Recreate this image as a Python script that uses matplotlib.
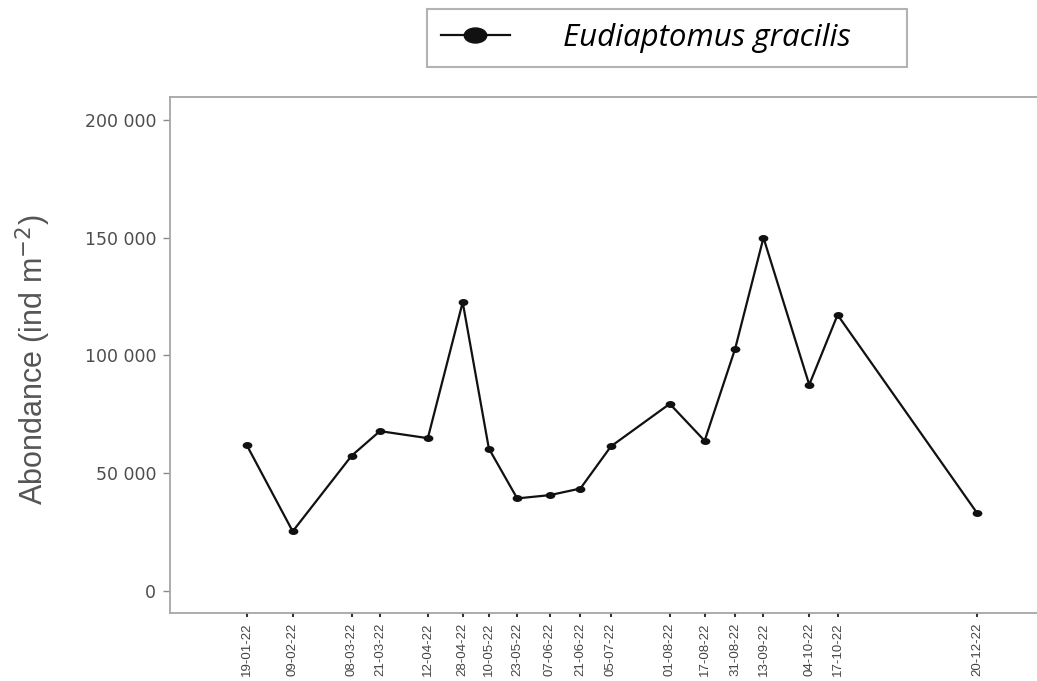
import numpy as np
import pandas as pd
import matplotlib
matplotlib.use("Agg")
import matplotlib.pyplot as plt
import matplotlib.dates as mdates
from matplotlib.path import Path
from matplotlib.transforms import Affine2D
from matplotlib.ticker import FuncFormatter

# sampling dates (dd-mm-yy) and abundance values
dates = ["19-01-22", "09-02-22", "08-03-22", "21-03-22", "12-04-22", "28-04-22",
         "10-05-22", "23-05-22", "07-06-22", "21-06-22", "05-07-22", "01-08-22",
         "17-08-22", "31-08-22", "13-09-22", "04-10-22", "17-10-22", "20-12-22"]
abundance = [61700, 25200, 57300, 67800, 64800, 122600,
             60400, 39200, 40600, 43400, 61300, 79400,
             63700, 102800, 150000, 87500, 117200, 33000]
species = "Eudiaptomus gracilis"
y_ticks = [0, 50000, 100000, 150000, 200000]

x = pd.to_datetime(dates, format="%d-%m-%y")

W, H = 1037, 681
fig = plt.figure(figsize=(W / 100, H / 100), dpi=100)
ax = fig.add_axes([170 / W, 1 - 613 / H, (W - 170) / W, (613 - 97) / H])

# slightly flattened marker, like the stretched original
ellipse = Path.unit_circle().transformed(Affine2D().scale(1.5, 1.0))

line, = ax.plot(x, abundance, color="#111111", lw=1.6, marker=ellipse,
                markersize=6, label=species)

xn = mdates.date2num(x)
ax.set_xlim(xn[0] - 35.3, xn[-1] + 27.5)
ax.set_ylim(-9500, 209800)

ax.set_xticks(xn)
ax.set_xticklabels(dates, rotation=90, fontsize=9.5, color="#444444",
                   family=["Liberation Sans", "DejaVu Sans"], va="top")
ax.set_yticks(y_ticks)
ax.yaxis.set_major_formatter(FuncFormatter(lambda v, p: f"{int(v):,}".replace(",", " ")))
for lab in ax.get_yticklabels():
    lab.set_fontsize(12.5)
    lab.set_color("#4d4d4d")
    lab.set_family(["DejaVu Sans"])

ax.tick_params(axis="y", length=5, width=1, color="#8a8a8a", pad=5)
ax.tick_params(axis="x", length=3, width=1.5, color="#333333", pad=4)

for s in ["left", "bottom", "top"]:
    ax.spines[s].set_color("#a6a6a6")
    ax.spines[s].set_linewidth(1.3)
ax.spines["right"].set_visible(False)

plt.rcParams["mathtext.fontset"] = "custom"
plt.rcParams["mathtext.rm"] = "Liberation Sans"
plt.rcParams["mathtext.it"] = "Liberation Sans:italic"
ax.set_ylabel("Abondance (ind m$^{\\mathrm{-2}}$)", fontsize=22, color="#555555",
              family=["Liberation Sans", "DejaVu Sans"])
ax.yaxis.set_label_coords(-0.158, 0.49)
ax.yaxis.label.set_va("center")

leg = fig.legend(handles=[line], loc="center",
                 bbox_to_anchor=(427 / W, 1 - 67 / H, 480 / W, 58 / H),
                 mode="expand", borderaxespad=0, fancybox=False, markerscale=2.7,
                 handlelength=2.2, handletextpad=1.7, borderpad=0.45,
                 prop={"family": "Open Sans", "style": "italic", "size": 22.5})
leg.get_frame().set_edgecolor("#a0a0a0")
leg.get_frame().set_linewidth(1.5)

fig.savefig("out.png", dpi=100)
